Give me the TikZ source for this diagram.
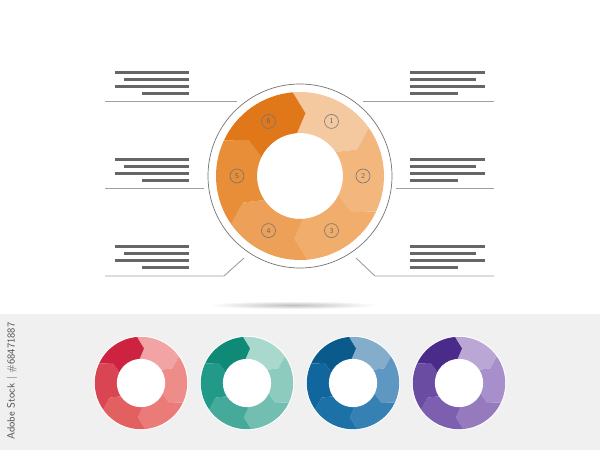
\documentclass[tikz,border=0pt]{standalone}
\usetikzlibrary{calc}
\definecolor{oA}{HTML}{F5C9A0}
\definecolor{oB}{HTML}{F3B67C}
\definecolor{oC}{HTML}{F0AD6C}
\definecolor{oD}{HTML}{ECA058}
\definecolor{oE}{HTML}{E88E38}
\definecolor{oF}{HTML}{E0781A}
\definecolor{rA}{HTML}{F2A3A3}
\definecolor{rB}{HTML}{EE8C8A}
\definecolor{rC}{HTML}{EA7B79}
\definecolor{rD}{HTML}{E2605F}
\definecolor{rE}{HTML}{DA4553}
\definecolor{rF}{HTML}{CE2340}
\definecolor{tA}{HTML}{A9D8CD}
\definecolor{tB}{HTML}{8DCBBF}
\definecolor{tC}{HTML}{72BEB1}
\definecolor{tD}{HTML}{45AA9A}
\definecolor{tE}{HTML}{229A8A}
\definecolor{tF}{HTML}{0E8A76}
\definecolor{bA}{HTML}{84ACCB}
\definecolor{bB}{HTML}{5E98C2}
\definecolor{bC}{HTML}{3681B3}
\definecolor{bD}{HTML}{1C71A7}
\definecolor{bE}{HTML}{12669E}
\definecolor{bF}{HTML}{0B5A8C}
\definecolor{pA}{HTML}{BBA7D6}
\definecolor{pB}{HTML}{A68FCA}
\definecolor{pC}{HTML}{957BBE}
\definecolor{pD}{HTML}{7C5FAE}
\definecolor{pE}{HTML}{6A4CA2}
\definecolor{pF}{HTML}{4B2B8A}
\definecolor{barc}{HTML}{666666}
\definecolor{linec}{HTML}{A0A0A0}
\definecolor{bandc}{HTML}{F0F0F0}
\tikzset{
  textbar/.style={barc, line width=3pt},
  sepline/.style={linec, line width=0.9pt},
  numcirc/.style={circle, draw=black!55, line width=0.6pt, inner sep=0pt, minimum size=14pt,
     text=black!60, font=\sffamily\fontsize{7.5}{7.5}\selectfont},
}
\newcommand\dseg[2]{%
  \fill[#2] ({#1+5}:84) arc[start angle={#1+5}, end angle={#1-55}, radius=84]
    -- ({#1-65}:63) -- ({#1-56}:43) arc[start angle={#1-56}, end angle={#1+4}, radius=43]
    -- ({#1-5}:63) -- cycle;}
\newcommand\mydonut[9]{%
  \begin{scope}[shift={(#1,#2)}, yscale=-1, scale=#3]
    \dseg{90}{#4}\dseg{30}{#5}\dseg{-30}{#6}\dseg{-90}{#7}\dseg{-150}{#8}\dseg{-210}{#9}
  \end{scope}}
\newcommand\smalldonut[9]{%
  \fill[white] (#1,#2) circle ({#3*84+1});
  \mydonut{#1}{#2}{#3}{#4}{#5}{#6}{#7}{#8}{#9}
  \draw[white, line width=1pt] (#1,#2) circle ({#3*43});}
\begin{document}
\begin{tikzpicture}[x=1pt,y=1pt]
\begin{scope}[yscale=-1]
\useasboundingbox (0,0) rectangle (600,450);
\fill[white] (0,0) rectangle (600,450);
\fill[bandc] (0,314) rectangle (600,450);
% shadow
\shade[inner color=black!25, outer color=white] (293,305) ellipse (84 and 4);
% main donut
\mydonut{300}{176}{1}{oA}{oB}{oC}{oD}{oE}{oF}
\draw[black!55, line width=0.7pt] (300,176) circle (92);
\begin{scope}[shift={(300,176)}, yscale=-1]
  \node[numcirc] (n1) at (60:63) {1};
  \node[numcirc] (n2) at (0:63) {2};
  \node[numcirc] (n3) at (-60:63) {3};
  \node[numcirc] (n4) at (-120:63) {4};
  \node[numcirc] (n5) at (180:63) {5};
  \node[numcirc] (n6) at (120:63) {6};
\end{scope}
% left text blocks
\foreach \y in {72,159,246}{
  \draw[textbar] (115,\y) -- (189,\y);
  \draw[textbar] (124,\y+7) -- (189,\y+7);
  \draw[textbar] (115,\y+14) -- (189,\y+14);
  \draw[textbar] (142,\y+21) -- (189,\y+21);
}
% right text blocks
\foreach \y in {72,159,246}{
  \draw[textbar] (410,\y) -- (485,\y);
  \draw[textbar] (410,\y+7) -- (476,\y+7);
  \draw[textbar] (410,\y+14) -- (485,\y+14);
  \draw[textbar] (410,\y+21) -- (458,\y+21);
}
% separator lines
\draw[sepline] (105,101) -- (237,101);
\draw[sepline] (363,101) -- (494,101);
\draw[sepline] (105,188) -- (204,188);
\draw[sepline] (396,188) -- (494,188);
\draw[sepline] (105,276) -- (224,276) -- (244,258);
\draw[sepline] (356,258) -- (375,276) -- (494,276);
% small donuts
\smalldonut{141}{383}{0.55}{rA}{rB}{rC}{rD}{rE}{rF}
\smalldonut{247}{383}{0.55}{tA}{tB}{tC}{tD}{tE}{tF}
\smalldonut{353}{383}{0.55}{bA}{bB}{bC}{bD}{bE}{bF}
\smalldonut{459}{383}{0.55}{pA}{pB}{pC}{pD}{pE}{pF}
\node[rotate=90, text=black!70, font=\sffamily\fontsize{10.5}{11}\selectfont, inner sep=0pt] (wm) at (12,381) {Adobe Stock | \#68471887};
\end{scope}
\end{tikzpicture}
\end{document}
